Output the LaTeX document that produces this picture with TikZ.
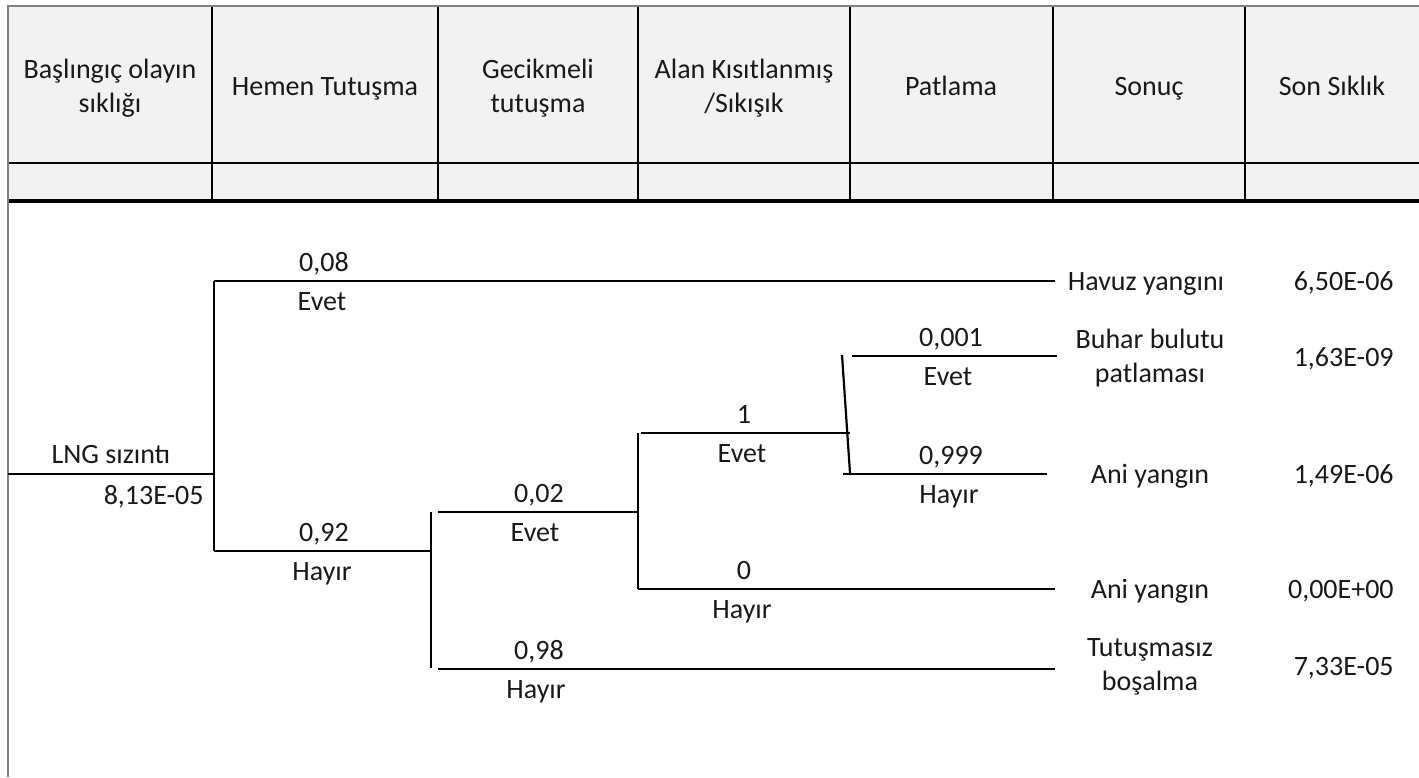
\documentclass[tikz,border=0pt]{standalone}
\usepackage{fontspec}
\setmainfont{Carlito}
\definecolor{ink}{RGB}{25,25,25}
\definecolor{hdr}{RGB}{242,242,242}
\definecolor{framegray}{RGB}{130,130,130}
\begin{document}
\begin{tikzpicture}[x=0.5pt,y=-0.5pt,
  txt/.style={font=\fontsize{14}{16.8}\selectfont, text=ink, inner sep=0pt, align=center},
  lab/.style={txt, anchor=base},
  val/.style={txt, anchor=base east},
  tree/.style={line width=1.1pt, draw=black},
  thinrule/.style={line width=0.8pt, draw=black},
  thickrule/.style={line width=1.7pt, draw=black},
  framestyle/.style={line width=1pt, draw=framegray}]
\useasboundingbox (0,0) rectangle (1419,777);
% header
\fill[hdr] (9,7) rectangle (1419,201);
\draw[framestyle] (8,777) -- (8,6) -- (1419,6);
\foreach \x in {212,438,638,850,1053,1245} \draw[thinrule] (\x,7) -- (\x,201);
\draw[thinrule] (9,163) -- (1419,163);
\draw[thickrule] (9,201) -- (1419,201);
\node[txt] (h1) at (110,88) {Başlıngıç olayın\\sıklığı};
\node[lab] (h2) at (325,95) {Hemen Tutuşma};
\node[txt] (h3) at (538,88) {Gecikmeli\\tutuşma};
\node[txt] (h4) at (744,88) {Alan Kısıtlanmış\\/Sıkışık};
\node[lab] (h5) at (951,95) {Patlama};
\node[lab] (h6) at (1149,95) {Sonuç};
\node[lab] (h7) at (1332,95) {Son Sıklık};
% tree points
\coordinate (root) at (8,474);
\coordinate (r1) at (214,474);
\coordinate (a1) at (214,281);
\coordinate (a2) at (214,551);
\coordinate (havuzend) at (1055,281);
\coordinate (b0) at (431,551);
\coordinate (b1) at (431,512);
\coordinate (b2) at (431,668);
\coordinate (c1s) at (438,512);
\coordinate (c1e) at (638,512);
\coordinate (c2s) at (438,669);
\coordinate (c2e) at (1055,669);
\coordinate (d0t) at (638,433);
\coordinate (d0b) at (638,589);
\coordinate (d1s) at (641,433);
\coordinate (d1e) at (850,433);
\coordinate (d2e) at (1055,589);
\coordinate (e0t) at (842,355);
\coordinate (e0b) at (850,473);
\coordinate (e1s) at (852,356);
\coordinate (e1e) at (1057,356);
\coordinate (e2s) at (843,474);
\coordinate (e2e) at (1047,474);
% tree lines
\draw[tree] (root) -- (r1);
\draw[tree] (a1) -- (a2);
\draw[tree] (a1) -- (havuzend);
\draw[tree] (a2) -- (b0);
\draw[tree] (b1) -- (b2);
\draw[tree] (c1s) -- (c1e);
\draw[tree] (c2s) -- (c2e);
\draw[tree] (d0t) -- (d0b);
\draw[tree] (d1s) -- (d1e);
\draw[tree] (d0b) -- (d2e);
\draw[tree] (e0t) -- (e0b);
\draw[tree] (e1s) -- (e1e);
\draw[tree] (e2s) -- (e2e);
% labels
\node[lab] (lng) at (111,463) {LNG sızıntı};
\node[val] (lngv) at (204,504) {8,13E-05};
\node[lab] (p1) at (324,271) {0,08};
\node[lab] (y1) at (322,310) {Evet};
\node[lab] (p2) at (324,541) {0,92};
\node[lab] (n2) at (322,580) {Hayır};
\node[lab] (p3) at (539,502) {0,02};
\node[lab] (y3) at (535,541) {Evet};
\node[lab] (p4) at (539,659) {0,98};
\node[lab] (n4) at (536,698) {Hayır};
\node[lab] (p5) at (744,423) {1};
\node[lab] (y5) at (742,462) {Evet};
\node[lab] (p6) at (744,579) {0};
\node[lab] (n6) at (742,618) {Hayır};
\node[lab] (p7) at (951,346) {0,001};
\node[lab] (y7) at (948,385) {Evet};
\node[lab] (p8) at (951,464) {0,999};
\node[lab] (n8) at (949,503) {Hayır};
% outcomes
\node[lab] (o1) at (1146,290) {Havuz yangını};
\node[txt] (o2) at (1150,358) {Buhar bulutu\\patlaması};
\node[lab] (o3) at (1150,483) {Ani yangın};
\node[lab] (o4) at (1150,598) {Ani yangın};
\node[txt] (o5) at (1150,667) {Tutuşmasız\\boşalma};
% frequencies
\node[val] (f1) at (1394,290) {6,50E-06};
\node[val] (f2) at (1394,366) {1,63E-09};
\node[val] (f3) at (1394,483) {1,49E-06};
\node[val] (f4) at (1394,598) {0,00E+00};
\node[val] (f5) at (1394,675) {7,33E-05};
\end{tikzpicture}
\end{document}
